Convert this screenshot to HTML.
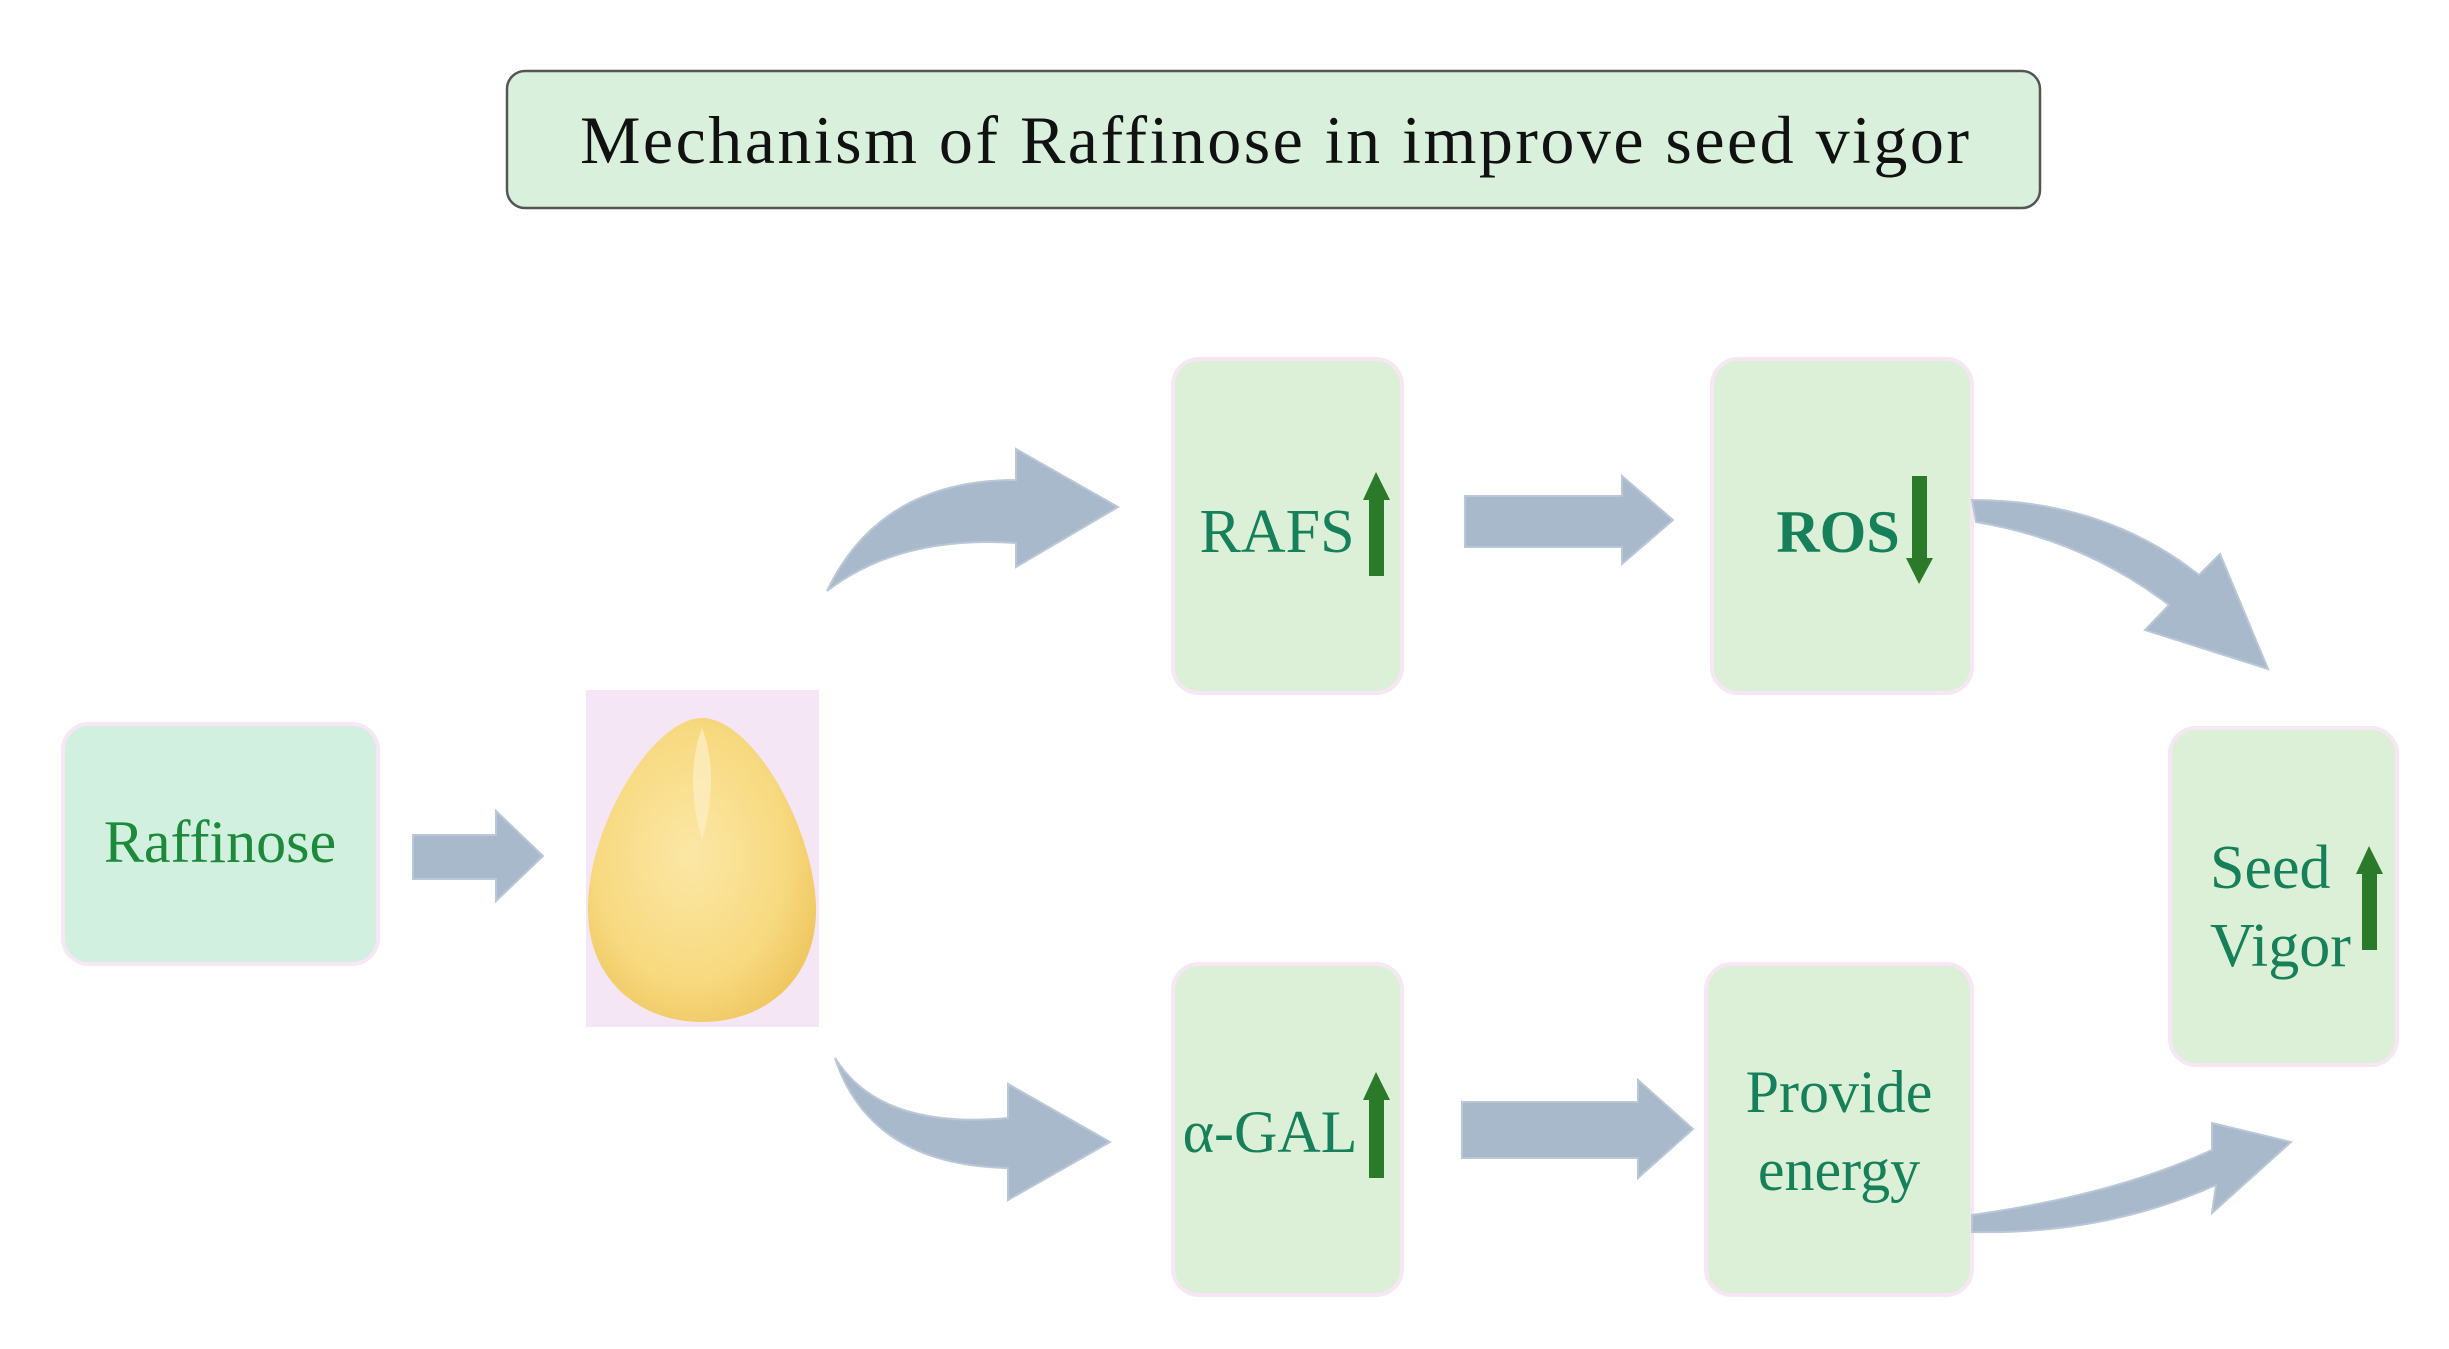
<!DOCTYPE html>
<html><head><style>
html,body{margin:0;padding:0;background:#fff;}
svg{display:block}
text{font-family:"Liberation Serif",serif;}
</style></head><body>
<svg width="2449" height="1349" viewBox="0 0 2449 1349" xmlns="http://www.w3.org/2000/svg">
<defs>
<radialGradient id="egg" cx="0.45" cy="0.45" r="0.6">
<stop offset="0" stop-color="#fbe7a6"/><stop offset="0.7" stop-color="#f7d97f"/><stop offset="1" stop-color="#efc862"/>
</radialGradient>
</defs>
<!-- title -->
<rect x="507" y="71" width="1533" height="137" rx="18" fill="#d9f0dc" stroke="#555" stroke-width="2.5"/>
<text x="580" y="163" font-size="68" textLength="1389" lengthAdjust="spacing" fill="#111">Mechanism of Raffinose in improve seed vigor</text>

<!-- boxes -->
<rect x="63" y="724" width="315" height="240" rx="26" fill="#d2f0df" stroke="#f7e6f4" stroke-width="4"/>
<text x="220" y="862" font-size="60" text-anchor="middle" fill="#1c8a3a">Raffinose</text>

<rect x="586" y="690" width="233" height="337" fill="#f4e6f5"/>
<path d="M702,718 C655,718 590,820 588,905 C586,980 640,1022 702,1022 C765,1022 818,980 816,905 C812,820 750,718 702,718 Z" fill="url(#egg)"/>
<path d="M702,728 C690,760 690,800 702,840 C714,800 714,760 702,728 Z" fill="#fdf0c8" opacity="0.7"/>

<rect x="1173" y="359" width="229" height="334" rx="26" fill="#dcf0d8" stroke="#f7e6f4" stroke-width="4"/>
<text x="1277" y="552" font-size="62" text-anchor="middle" fill="#16805a">RAFS</text>

<rect x="1712" y="359" width="260" height="334" rx="26" fill="#dcf0d8" stroke="#f7e6f4" stroke-width="4"/>
<text x="1838" y="552" font-size="60" font-weight="bold" text-anchor="middle" fill="#16805a">ROS</text>

<rect x="2170" y="728" width="227" height="337" rx="26" fill="#dcf0d8" stroke="#f7e6f4" stroke-width="4"/>
<text x="2210" y="888" font-size="62" fill="#16805a">Seed</text>
<text x="2210" y="966" font-size="62" fill="#16805a">Vigor</text>

<rect x="1173" y="964" width="229" height="331" rx="26" fill="#dcf0d8" stroke="#f7e6f4" stroke-width="4"/>
<text x="1270" y="1152" font-size="60" text-anchor="middle" fill="#16805a">α-GAL</text>

<rect x="1706" y="964" width="266" height="331" rx="26" fill="#dcf0d8" stroke="#f7e6f4" stroke-width="4"/>
<text x="1839" y="1112" font-size="60" text-anchor="middle" fill="#16805a">Provide</text>
<text x="1839" y="1190" font-size="60" text-anchor="middle" fill="#16805a">energy</text>

<!-- green up/down arrows -->
<g fill="#2a7a2a">
<rect x="1369" y="498" width="15" height="78"/><path d="M1363,500 L1376,472 L1390,500 Z"/>
<rect x="1912" y="476" width="15" height="84"/><path d="M1906,558 L1919,584 L1933,558 Z"/>
<rect x="2362" y="872" width="15" height="78"/><path d="M2356,874 L2369,846 L2383,874 Z"/>
<rect x="1369" y="1098" width="15" height="80"/><path d="M1363,1100 L1376,1072 L1390,1100 Z"/>
</g>

<!-- blue-grey arrows -->
<g fill="#a8b9cc" stroke="#b9c7d6" stroke-width="2">
<path d="M413,835 L496,835 L496,811 L543,856 L496,901 L496,879 L413,879 Z"/>
<path d="M1465,496 L1622,496 L1622,476 L1673,520 L1622,564 L1622,547 L1465,547 Z"/>
<path d="M1462,1102 L1638,1102 L1638,1080 L1693,1129 L1638,1178 L1638,1158 L1462,1158 Z"/>
<path d="M827,591 Q880,480 1016,480 L1016,449 L1118,507 L1016,567 L1016,543 Q900,535 827,591 Z"/>
<path d="M835,1058 Q880,1130 1008,1118 L1008,1084 L1110,1142 L1008,1200 L1008,1168 Q870,1165 835,1058 Z"/>
<path d="M1972,500 Q2104,500 2199,575 L2220,554 L2268,669 L2145,630 L2169,605 Q2084,540 1976,522 Z"/>
<path d="M1972,1215 Q2114,1195 2212,1150 L2212,1123 L2291,1142 L2212,1213 L2216,1185 Q2104,1235 1972,1232 Z"/>
</g>
</svg>
</body></html>
